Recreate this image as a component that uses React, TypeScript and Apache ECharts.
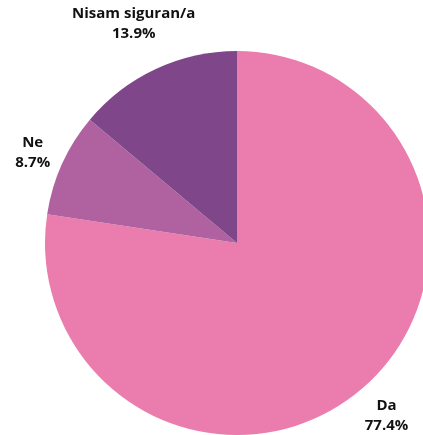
import React, { useEffect, useRef } from "react";
import * as echarts from "echarts";

const categories = ["Da", "Ne", "Nisam siguran/a"];
const values = [77.4, 8.7, 13.9];
const colors = ["#EA7DAD", "#B0619F", "#7F4789"];

export default function App() {
  const ref = useRef<HTMLDivElement>(null);
  useEffect(() => {
    if (!ref.current) return;
    const chart = echarts.init(ref.current, null, { renderer: "svg" });
    const W = 423;
    const H = 435;
    const cx = 237;
    const cy = 243;
    const R = 192;
    const total = values.reduce((a, b) => a + b, 0);
    chart.setOption({
      animation: false,
      series: [
        {
          type: "pie",
          center: [cx, cy],
          radius: [0, R],
          startAngle: 90,
          clockwise: true,
          avoidLabelOverlap: false,
          data: categories.map((c, i) => ({
            name: c,
            value: values[i],
            itemStyle: { color: colors[i] },
          })),
          label: {
            show: true,
            position: "outside",
            alignTo: "none",
            overflow: "none",
            formatter: (p: any) => `${p.name}\n${p.value.toFixed(1)}%`,
            fontFamily: "Open Sans",
            fontWeight: "bold",
            fontSize: 15,
            lineHeight: 20,
            color: "#111111",
            align: "center",
          },
          labelLine: { show: false },
          labelLayout: (params: any) => {
            const i = params.dataIndex;
            let before = 0;
            for (let k = 0; k < i; k++) before += values[k];
            const mid = ((before + values[i] / 2) / total) * Math.PI * 2;
            const dx = Math.sin(mid);
            const dy = -Math.cos(mid);
            const lr = params.labelRect;
            const ext = (Math.abs(dx) * lr.width) / 2 + (Math.abs(dy) * lr.height) / 2;
            const d = R + 8 + ext;
            let x = cx + dx * d;
            let y = cy + dy * d;
            x = Math.min(Math.max(x, lr.width / 2 + 1), W - lr.width / 2 - 1);
            y = Math.min(Math.max(y, lr.height / 2 + 1), H - lr.height / 2 - 1);
            return {
              x,
              y,
              align: "center",
              verticalAlign: "middle",
              hideOverlap: false,
            };
          },
        },
      ],
    });
    return () => chart.dispose();
  }, []);
  return (
    <div
      ref={ref}
      style={{ position: "fixed", left: 0, top: 0, width: 423, height: 435 }}
    />
  );
}
